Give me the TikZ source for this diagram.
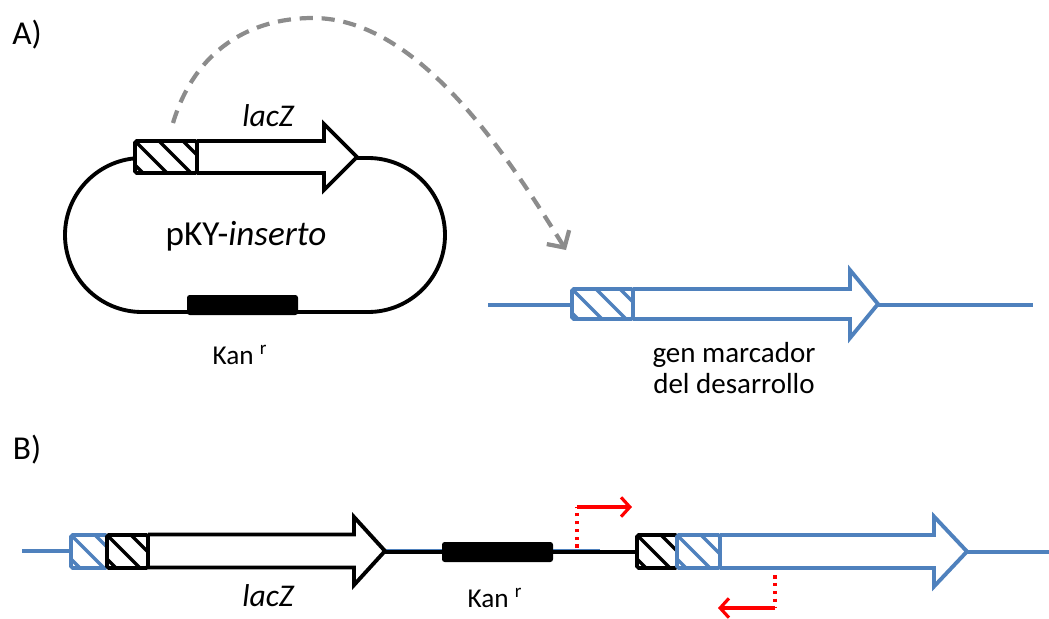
\documentclass[tikz,border=0pt]{standalone}
\usepackage{fontspec}
\setmainfont{Carlito}
\usetikzlibrary{arrows.meta}
\definecolor{geneblue}{RGB}{79,129,189}
\definecolor{arcgray}{RGB}{140,140,140}
\definecolor{primred}{RGB}{255,0,0}
\newcommand\hatchbox[5]{%
  \fill[white] (#2,#3) rectangle (#4,#5);
  \begin{scope}
    \clip (#2,#3) rectangle (#4,#5);
    \foreach \k in {-3,...,4} \draw[#1, line width=2pt] (#2+24*\k,#3) -- ++(40,40);
  \end{scope}
  \draw[#1, line width=2.2pt, rounded corners=1pt] (#2,#3) rectangle (#4,#5);}
\newcommand\genearrow[7]{%
  \draw[#1, line width=2.2pt, fill=white, line join=miter]
    (#2,#5-#6) -- (#3,#5-#6) -- (#3,#5-#7) -- (#4,#5) -- (#3,#5+#7) -- (#3,#5+#6) -- (#2,#5+#6);}
\tikzset{
  lbl/.style={font=\fontsize{15.5}{18}\selectfont, inner sep=0pt},
  panel/.style={font=\fontsize{19}{22}\selectfont, inner sep=0pt},
  primer/.style={primred, line width=1.8pt},
  primerdot/.style={primred, line width=2pt, dash pattern=on 2pt off 2.5pt},
  primertip/.style={-{Straight Barb[length=5pt,width=11pt,line width=1.8pt]}}
}
\begin{document}
\begin{tikzpicture}[x=0.02cm, y=-0.02cm]
  \useasboundingbox (0,0) rectangle (1049,619);
  \node[panel] (panela) at (27,35) {A)};
  \node[panel] (panelb) at (27,450) {B)};
  % plasmid
  \draw[line width=2.2pt, rounded corners=1.54cm] (65,158) rectangle (445,312);
  \fill[rounded corners=1.5pt] (187,295) rectangle (298,315);
  \genearrow{black}{197}{324}{357}{157}{16}{33}
  \hatchbox{black}{135}{141}{197}{173}
  \node[lbl, font=\fontsize{18}{21}\selectfont\itshape] (lacza) at (268,116) {lacZ};
  \node[lbl, font=\fontsize{20}{24}\selectfont] (pky) at (246,236) {pKY-\textit{inserto}};
  \node[lbl] (kana) at (240,355) {Kan \textsuperscript{r}};
  % chromosome
  \draw[geneblue, line width=2.2pt] (488,305) -- (1033,305);
  \genearrow{geneblue}{633}{850}{878}{304}{15}{34}
  \hatchbox{geneblue}{572}{289}{633}{319}
  \node[lbl, align=center, font=\fontsize{16.5}{17.6}\selectfont] (marker) at (734,368) {gen marcador\\del desarrollo};
  \coordinate (arcstart) at (173,123);
  \coordinate (arctop) at (313,18);
  \coordinate (arcend) at (566,250);
  \draw[arcgray, line width=2.4pt, dash pattern=on 7.5pt off 5pt, -{Straight Barb[length=7pt,width=15pt]}]
    (arcstart) .. controls (195,50) and (250,18) .. (arctop) .. controls (420,18) and (510,160) .. (arcend);
  % integrated
  \draw[geneblue, line width=2.2pt] (22,551) -- (71,551);
  \draw[geneblue, line width=2.2pt] (967,552) -- (1049,552);
  \draw[geneblue, line width=1.6pt] (385,550) -- (600,550);
  \draw[line width=2pt] (385,552) -- (637,552);
  \fill[rounded corners=1.5pt] (442,542) rectangle (553,562);
  \genearrow{black}{148}{354}{385}{551}{16.5}{34}
  \genearrow{geneblue}{720}{934}{967}{551.5}{16.5}{35}
  \hatchbox{geneblue}{71}{535}{107}{568}
  \hatchbox{black}{107}{535}{148}{568}
  \hatchbox{black}{637}{535}{677}{568}
  \hatchbox{geneblue}{677}{535}{720}{568}
  \node[lbl, font=\fontsize{18}{21}\selectfont\itshape] (laczb) at (268,596) {lacZ};
  \node[lbl] (kanb) at (495,598) {Kan \textsuperscript{r}};
  % primers
  \coordinate (pfwd) at (577,548);
  \coordinate (pfwdc) at (577,507);
  \coordinate (pfwdt) at (632,507);
  \draw[primerdot] (pfwd) -- (pfwdc);
  \draw[primer, primertip] (pfwdc) -- (pfwdt);
  \coordinate (prev) at (775,575);
  \coordinate (prevc) at (775,608);
  \coordinate (prevt) at (718,608);
  \draw[primerdot] (prev) -- (prevc);
  \draw[primer, primertip] (prevc) -- (prevt);
\end{tikzpicture}
\end{document}
